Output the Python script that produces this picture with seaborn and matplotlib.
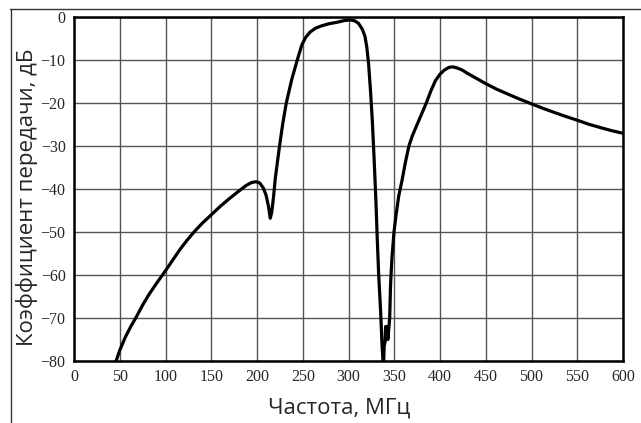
import matplotlib
matplotlib.use("Agg")
import matplotlib.pyplot as plt
import seaborn as sns
import pandas as pd
from matplotlib.lines import Line2D

# frequency, MHz
freq = [46, 50, 56, 62, 68, 75, 82, 90, 96, 100, 108, 116, 124, 132, 140, 150, 160,
        170, 180, 188, 194, 199, 203, 207, 210, 212.5, 214.5, 216, 218, 220, 224, 228,
        232, 238, 244, 249, 253, 258, 264, 270, 278, 288, 296, 302, 307, 311, 315, 318,
        320, 322, 324, 326, 328, 330, 331.5, 333, 335, 336.6, 337.7, 338.5, 339, 340,
        340.5, 342.5, 343, 344, 345, 346, 347.5, 349.7, 352, 355, 358.5, 362, 366, 370,
        375, 380, 385, 390, 395, 400, 405, 410, 414, 418, 424, 430, 440, 450, 462, 475,
        487, 500, 512, 525, 537, 550, 562, 575, 587, 599]
# transmission coefficient, dB
gain = [-80, -77.5, -74.5, -72, -69.8, -67, -64.5, -62, -60.2, -59, -56.5, -54, -51.8,
        -49.8, -48, -46, -44, -42.2, -40.5, -39.2, -38.5, -38.3, -38.6, -39.8, -41.5,
        -44, -46.8, -45.5, -42, -37.5, -31, -25, -20, -14.5, -10, -6.5, -4.8, -3.5,
        -2.6, -2.1, -1.6, -1.2, -0.8, -0.7, -0.9, -1.5, -2.8, -4.5, -7, -11, -17, -24,
        -33, -43, -52, -60, -68, -76, -80, -80, -76.5, -75.5, -72, -72, -75, -72.5,
        -70, -62, -56, -50, -46, -41.5, -38, -34, -30, -27.5, -25, -22.5, -20, -17.2,
        -14.8, -13.3, -12.3, -11.7, -11.6, -11.8, -12.3, -13.1, -14.3, -15.5, -16.8,
        -18, -19.1, -20.2, -21.2, -22.2, -23.1, -24, -24.9, -25.7, -26.4, -27]

xticks = list(range(0, 601, 50))
yticks = list(range(-80, 1, 10))

df = pd.DataFrame({"f": freq, "k": gain})

sns.set_style("white")
fig = plt.figure(figsize=(6.41, 4.23), dpi=100)
ax = fig.add_axes([74 / 641, 62 / 423, 549 / 641, 344 / 423])

sns.lineplot(data=df, x="f", y="k", sort=False, color="black", lw=2.3, ax=ax)

ax.set_xlim(0, 600)
ax.set_ylim(-80, 0)
ax.set_xticks(xticks)
ax.set_yticks(yticks)
ax.grid(True, color="#555555", lw=1.0)
ax.set_axisbelow(True)
for s in ax.spines.values():
    s.set_color("black")
    s.set_linewidth(1.8)
ax.tick_params(length=0, pad=6, labelsize=11.5)
for lab in ax.get_xticklabels() + ax.get_yticklabels():
    lab.set_fontfamily("Liberation Serif")

ax.set_xlabel("Частота, МГц", fontsize=16, family="Open Sans")
ax.set_ylabel("Коэффициент передачи, дБ", fontsize=16, family="Open Sans")
ax.xaxis.set_label_coords(0.483, -0.105)
ax.yaxis.set_label_coords(-0.066, 0.477)

# outer frame fragment
fig.add_artist(Line2D([10 / 641, 1], [1 - 9.5 / 423, 1 - 9.5 / 423], color="#333333", lw=1))
fig.add_artist(Line2D([10.5 / 641, 10.5 / 641], [0, 1 - 9.5 / 423], color="#333333", lw=1))

fig.savefig("out.png", dpi=100)
